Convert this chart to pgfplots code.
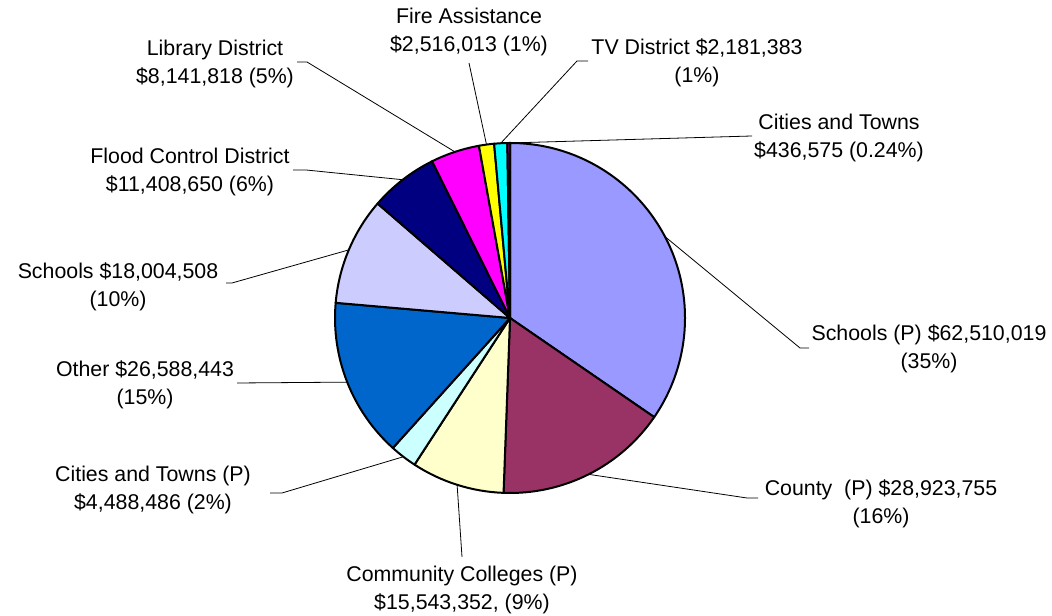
\documentclass[border=0pt]{standalone}
\usepackage{fontspec}
\setmainfont{Liberation Sans}
\usepackage{pgfplots}
\pgfplotsset{compat=1.18}

% slice colours, clockwise from 12 o'clock
\definecolor{pie0}{HTML}{9999FF}
\definecolor{pie1}{HTML}{993366}
\definecolor{pie2}{HTML}{FFFFCC}
\definecolor{pie3}{HTML}{CCFFFF}
\definecolor{pie4}{HTML}{0066CC}
\definecolor{pie5}{HTML}{CCCCFF}
\definecolor{pie6}{HTML}{000080}
\definecolor{pie7}{HTML}{FF00FF}
\definecolor{pie8}{HTML}{FFFF00}
\definecolor{pie9}{HTML}{00FFFF}
\definecolor{pie10}{HTML}{800080}

% Schools (P), County (P), Community Colleges (P), Cities and Towns (P),
% Other, Schools, Flood Control District, Library District,
% Fire Assistance, TV District, Cities and Towns
\def\pievalues{62510019,28923755,15543352,4488486,26588443,18004508,11408650,8141818,2516013,2181383,436575}

% total
\xdef\cum{0}
\foreach \v in \pievalues {
  \pgfkeys{/pgf/fpu=true,/pgf/fpu/output format=fixed}
  \pgfmathparse{\cum+\v}\xdef\cum{\pgfmathresult}
}
\xdef\total{\cum}
% start / end / middle angle of every slice
\xdef\cum{0}
\foreach \v [count=\i from 0] in \pievalues {
  \pgfkeys{/pgf/fpu=true,/pgf/fpu/output format=fixed}
  \pgfmathparse{90-360*\cum/\total}\expandafter\xdef\csname pieA\i\endcsname{\pgfmathresult}
  \pgfmathparse{\cum+\v}\xdef\cum{\pgfmathresult}
  \pgfmathparse{90-360*\cum/\total}\expandafter\xdef\csname pieB\i\endcsname{\pgfmathresult}
  \pgfmathparse{90-360*(\cum-\v/2)/\total}\expandafter\xdef\csname pieM\i\endcsname{\pgfmathresult}
}

\def\R{131.25pt}
\newcommand\lead[2]{\draw[line width=0.6pt] (axis cs:510,298) ++(\csname pieM#1\endcsname:\R) -- #2;}
\tikzset{lbl/.style={font=\fontsize{16}{21}\selectfont, align=center, inner sep=0pt}}

\begin{document}
\begin{tikzpicture}
  \begin{axis}[
      x=0.75pt, y=0.75pt,
      xmin=0, xmax=1052, ymin=0, ymax=616,
      hide axis, clip=false,
    ]
    \path (axis cs:0,0) rectangle (axis cs:1052,616);
    \pgfplotsinvokeforeach{0,...,10}{
      \filldraw[fill=pie#1, draw=black, line width=1.5pt, line join=round]
        (axis cs:510,298) -- ++(\csname pieA#1\endcsname:\R)
        arc[start angle=\csname pieA#1\endcsname, end angle=\csname pieB#1\endcsname, radius=\R] -- cycle;
    }

    % leader lines
    \lead{0}{(axis cs:800,268) -- (axis cs:809,268)}
    \lead{1}{(axis cs:747,118) -- (axis cs:758,118)}
    \lead{2}{(axis cs:462,59)}
    \lead{3}{(axis cs:282,123) -- (axis cs:270,123)}
    \lead{4}{(axis cs:237,233)}
    \lead{5}{(axis cs:232,333) -- (axis cs:226,333)}
    \lead{6}{(axis cs:306,446) -- (axis cs:293,446)}
    \lead{7}{(axis cs:307,554) -- (axis cs:297,554)}
    \lead{8}{(axis cs:469,553)}
    \lead{9}{(axis cs:577,555) -- (axis cs:588,555)}
    \lead{10}{(axis cs:752,480)}

    % labels
    \node[lbl] at (axis cs:929,267) {Schools (P) \$62,510,019\\(35\%)};
    \node[lbl] at (axis cs:881,112) {County~~(P) \$28,923,755\\(16\%)};
    \node[lbl] at (axis cs:462,26) {Community Colleges (P)\\\$15,543,352, (9\%)};
    \node[lbl] at (axis cs:153,126) {Cities and Towns (P)\\\$4,488,486 (2\%)};
    \node[lbl] at (axis cs:145,231) {Other \$26,588,443\\(15\%)};
    \node[lbl] at (axis cs:118,329.5) {Schools \$18,004,508\\(10\%)};
    \node[lbl] at (axis cs:190,444) {Flood Control District\\\$11,408,650 (6\%)};
    \node[lbl] at (axis cs:215,552.5) {Library District\\\$8,141,818 (5\%)};
    \node[lbl] at (axis cs:469,584) {Fire Assistance\\\$2,516,013 (1\%)};
    \node[lbl] at (axis cs:697,553) {TV District \$2,181,383\\(1\%)};
    \node[lbl] at (axis cs:839,478) {Cities and Towns\\\$436,575 (0.24\%)};
  \end{axis}
\end{tikzpicture}
\end{document}
